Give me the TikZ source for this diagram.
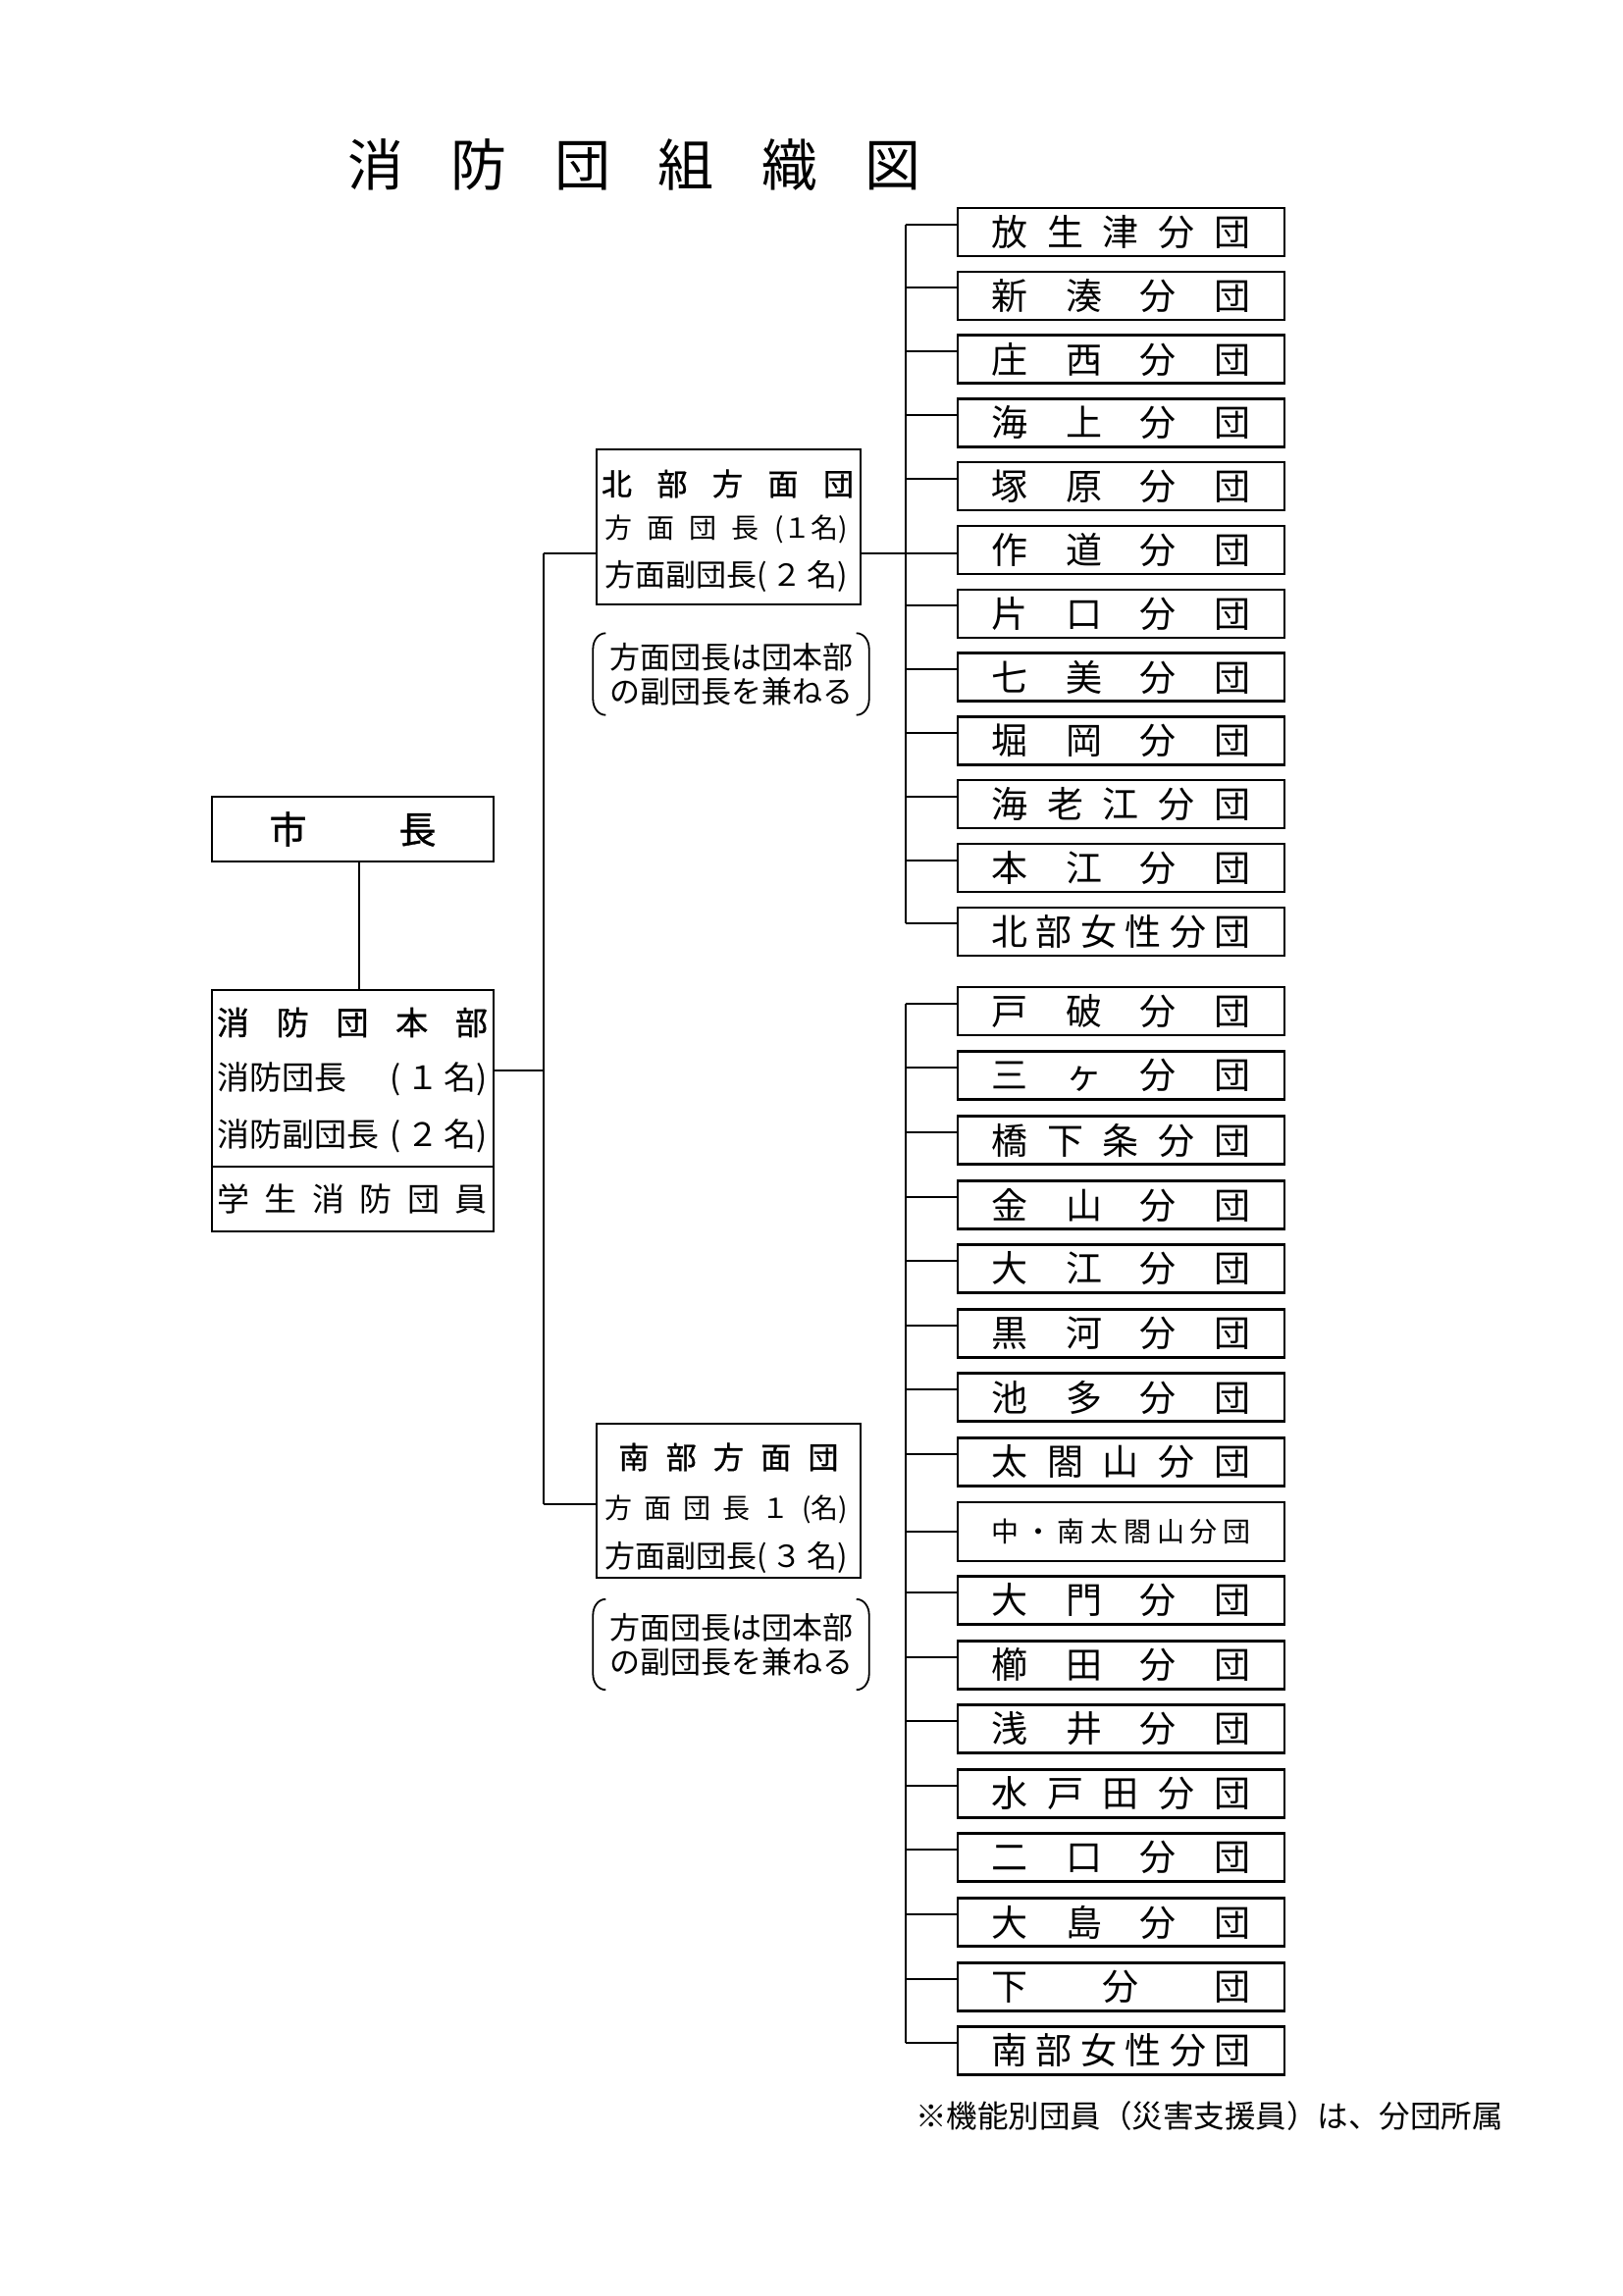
\documentclass[tikz,border=0pt]{standalone}
\usepackage{fontspec}
\setmainfont{Noto Sans CJK JP}
\newfontfamily\jpbold[FakeBold=1]{Noto Sans CJK JP}
\newcommand\fs[1]{\fontsize{#1}{#1}\selectfont}
\def\sprdaux#1{\ifx\relax#1\else#1\expandafter\sprdnext\fi}
\def\sprdnext#1{\ifx\relax#1\else\hfill#1\expandafter\sprdnext\fi}
\newcommand\sprd[2]{\makebox[#1][s]{\sprdaux#2\relax}}
\tikzset{
  bx/.style={draw, line width=2.3pt, inner sep=0pt, minimum width=333pt, minimum height=49pt, font=\fs{37}},
  mbox/.style={draw, line width=2.3pt, inner sep=0pt},
  lbl/.style={inner sep=0pt},
  conn/.style={line width=2pt},
  paren/.style={line width=1.8pt},
  note/.style={inner sep=0pt, minimum width=281pt, align=center, font=\fontsize{31}{35}\selectfont},
}
\begin{document}
\begin{tikzpicture}[x=1pt,y=-1pt]
\fill[white] (0,0) rectangle (1654,2340);
\useasboundingbox (0,0) rectangle (1654,2340);

% title
\node[lbl] (title) at (646.5,168) {\fs{57}\sprd{584pt}{消防団組織図}};

% mayor and headquarters
\node[mbox, minimum width=287pt, minimum height=66pt] (shicho) at (359.5,845) {};
\node[lbl] (shichot) at (359.5,845) {\jpbold\fs{38}\sprd{170pt}{市長}};
\node[mbox, minimum width=287pt, minimum height=246pt] (honbu) at (359.5,1132) {};
\coordinate (sep) at (0,1189);
\draw[line width=2.3pt] (honbu.west |- sep) -- (honbu.east |- sep);
\node[lbl] (hb1) at (359,1042) {\jpbold\fs{33}\sprd{276pt}{消防団本部}};
\node[lbl] (hb2) at (359,1100) {\fs{33}\makebox[276pt][s]{消防団長\hfill(\,１\,名)}};
\node[lbl] (hb3) at (359,1158) {\fs{33}\makebox[276pt][s]{消防副団長\hfill(\,２\,名)}};
\node[lbl] (hb4) at (359,1222) {\fs{33}\sprd{276pt}{学生消防団員}};

% north area group
\node[mbox, minimum width=269pt, minimum height=158pt] (north) at (742.5,537) {};
\node[lbl] (nt1) at (741.5,493) {\jpbold\fs{31}\sprd{257pt}{北部方面団}};
\node[lbl] (nt2) at (740,539) {\fs{28}\sprd{248pt}{方面団長{(１名)}}};
\node[lbl] (nt3) at (740,587) {\fs{31}\makebox[248pt][s]{方面副団長\hfill(\,２\,名)}};
\node[note, minimum height=83pt] (nnote) at (745,687) {方面団長は団本部\\の副団長を兼ねる};

% south area group
\node[mbox, minimum width=269pt, minimum height=157pt] (south) at (742.5,1529.5) {};
\node[lbl] (st1) at (742.5,1485) {\jpbold\fs{31}\sprd{224pt}{南部方面団}};
\node[lbl] (st2) at (740,1538) {\fs{28}\sprd{248pt}{方面団長１{(名)}}};
\node[lbl] (st3) at (740,1587) {\fs{31}\makebox[248pt][s]{方面副団長\hfill(\,３\,名)}};
\node[note, minimum height=92pt] (snote) at (745,1676) {方面団長は団本部\\の副団長を兼ねる};

% parentheses around notes
\foreach \nn in {nnote,snote}{
  \draw[paren] ([xshift=13pt]\nn.north west) to[out=180,in=90] ([yshift=-16pt]\nn.north west)
     -- ([yshift=16pt]\nn.south west) to[out=-90,in=180] ([xshift=13pt]\nn.south west);
  \draw[paren] ([xshift=-13pt]\nn.north east) to[out=0,in=90] ([yshift=-16pt]\nn.north east)
     -- ([yshift=16pt]\nn.south east) to[out=-90,in=0] ([xshift=-13pt]\nn.south east);
}

% north branches
\node[bx] (n1) at (1142.5,236.5) {\sprd{264pt}{放生津分団}};
\node[bx] (n2) at (1142.5,301.3) {\sprd{264pt}{新湊分団}};
\node[bx] (n3) at (1142.5,366.1) {\sprd{264pt}{庄西分団}};
\node[bx] (n4) at (1142.5,430.9) {\sprd{264pt}{海上分団}};
\node[bx] (n5) at (1142.5,495.7) {\sprd{264pt}{塚原分団}};
\node[bx] (n6) at (1142.5,560.5) {\sprd{264pt}{作道分団}};
\node[bx] (n7) at (1142.5,625.3) {\sprd{264pt}{片口分団}};
\node[bx] (n8) at (1142.5,690.1) {\sprd{264pt}{七美分団}};
\node[bx] (n9) at (1142.5,754.9) {\sprd{264pt}{堀岡分団}};
\node[bx] (n10) at (1142.5,819.7) {\sprd{264pt}{海老江分団}};
\node[bx] (n11) at (1142.5,884.5) {\sprd{264pt}{本江分団}};
\node[bx] (n12) at (1142.5,949.3) {\sprd{264pt}{北部女性分団}};

% south branches
\node[bx] (s1) at (1142.5,1030.5) {\sprd{264pt}{戸破分団}};
\node[bx] (s2) at (1142.5,1096) {\sprd{264pt}{三ヶ分団}};
\node[bx] (s3) at (1142.5,1162) {\sprd{264pt}{橋下条分団}};
\node[bx] (s4) at (1142.5,1228) {\sprd{264pt}{金山分団}};
\node[bx] (s5) at (1142.5,1293) {\sprd{264pt}{大江分団}};
\node[bx] (s6) at (1142.5,1359) {\sprd{264pt}{黒河分団}};
\node[bx] (s7) at (1142.5,1424) {\sprd{264pt}{池多分団}};
\node[bx] (s8) at (1142.5,1490) {\sprd{264pt}{太閤山分団}};
\node[bx, minimum height=60pt, font=\fs{28}] (s9) at (1142.5,1561) {\sprd{264pt}{中・南太閤山分団}};
\node[bx] (s10) at (1142.5,1631) {\sprd{264pt}{大門分団}};
\node[bx] (s11) at (1142.5,1697) {\sprd{264pt}{櫛田分団}};
\node[bx] (s12) at (1142.5,1762) {\sprd{264pt}{浅井分団}};
\node[bx] (s13) at (1142.5,1828) {\sprd{264pt}{水戸田分団}};
\node[bx] (s14) at (1142.5,1893) {\sprd{264pt}{二口分団}};
\node[bx] (s15) at (1142.5,1959) {\sprd{264pt}{大島分団}};
\node[bx] (s16) at (1142.5,2025) {\sprd{264pt}{下分団}};
\node[bx] (s17) at (1142.5,2090) {\sprd{264pt}{南部女性分団}};

% footnote
\node[lbl] (foot) at (1232.5,2157) {\fs{31.5}※機能別団員（災害支援員）は、分団所属};

% connectors
\coordinate (nbx) at (923,0);
\coordinate (nconn) at (554,564);
\coordinate (sconn) at (554,1533);
\coordinate (hconn) at (554,1091);
\draw[conn] ([xshift=6.5pt]shicho.south) -- ([xshift=6.5pt]honbu.north);
\draw[conn] (nconn) -- (sconn);
\draw[conn] (honbu.east |- hconn) -- (hconn);
\draw[conn] (nconn) -- (north.west |- nconn);
\draw[conn] (sconn) -- (south.west |- sconn);
\draw[conn] (north.east |- nconn) -- (n6.west |- nconn);
\draw[conn] ([yshift=8pt]n1.west -| nbx) -- ([yshift=8pt]n12.west -| nbx);
\foreach \b in {n1,n2,n3,n4,n5,n7,n8,n9,n10,n11,n12}{
  \draw[conn] ([yshift=8pt]\b.west) -- ([yshift=8pt]\b.west -| nbx);
}
\draw[conn] ([yshift=8pt]s1.west -| nbx) -- ([yshift=8pt]s17.west -| nbx);
\foreach \b in {s1,s2,s3,s4,s5,s6,s7,s8,s10,s11,s12,s13,s14,s15,s16,s17}{
  \draw[conn] ([yshift=8pt]\b.west) -- ([yshift=8pt]\b.west -| nbx);
}
\draw[conn] (s9.west) -- (s9.west -| nbx);
\end{tikzpicture}
\end{document}
